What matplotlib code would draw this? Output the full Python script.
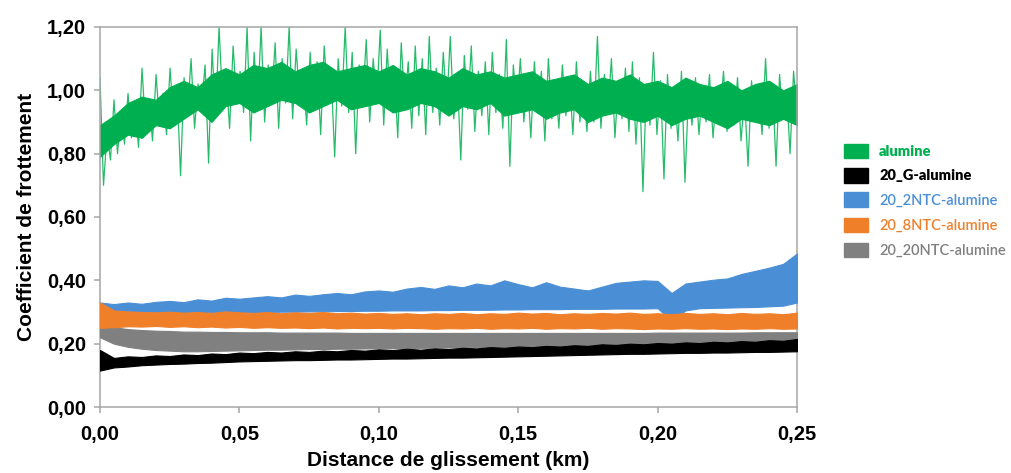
import numpy as np
import matplotlib
matplotlib.use("Agg")
import matplotlib.pyplot as plt
from matplotlib.patches import Patch
from matplotlib.ticker import FuncFormatter

# ---------------- data ----------------
series_names = ["alumine", "20_G-alumine", "20_2NTC-alumine", "20_8NTC-alumine", "20_20NTC-alumine"]
series_colors = ["#00b050", "#000000", "#4a8fd6", "#f07f2a", "#808080"]

# alumine: noisy friction trace (hand-read values, 0 -> 0.25 km)
alumine = [
    1.04, 0.70, 0.86, 0.78, 0.97, 0.80, 0.93, 0.83, 0.99, 0.85,
    0.95, 0.82, 1.07, 0.88, 0.97, 0.84, 1.05, 0.90, 0.99, 0.86,
    1.07, 0.91, 1.01, 0.73, 1.04, 0.93, 1.10, 0.88, 1.02, 0.95,
    1.08, 0.77, 1.13, 0.92, 1.20, 0.96, 1.05, 0.88, 1.14, 0.97,
    1.06, 0.93, 1.20, 0.84, 1.12, 0.95, 1.20, 0.90, 1.08, 0.97,
    1.15, 0.88, 1.10, 0.96, 1.20, 0.91, 1.13, 0.97, 1.06, 0.89,
    1.12, 0.94, 1.09, 0.86, 1.14, 0.98, 1.05, 0.79, 1.10, 0.95,
    1.20, 0.93, 1.12, 0.80, 1.08, 0.96, 1.16, 0.90, 1.10, 0.97,
    1.19, 0.89, 1.13, 0.94, 1.07, 0.85, 1.15, 0.96, 1.09, 0.88,
    1.14, 0.92, 1.10, 0.86, 1.17, 0.93, 1.07, 0.89, 1.12, 0.95,
    1.17, 0.91, 1.05, 0.78, 1.11, 0.94, 1.14, 0.87, 1.06, 0.92,
    1.09, 0.86, 1.12, 0.93, 1.05, 0.88, 1.16, 0.76, 1.08, 0.94,
    1.10, 0.90, 1.04, 0.85, 1.09, 0.93, 1.06, 0.84, 1.10, 0.91,
    1.03, 0.88, 1.08, 0.92, 1.04, 0.86, 1.09, 0.90, 1.02, 0.87,
    1.06, 0.90, 1.17, 0.88, 1.05, 0.93, 1.10, 0.85, 1.03, 0.91,
    1.07, 0.87, 1.09, 0.83, 1.04, 0.68, 1.02, 0.89, 1.12, 0.86,
    1.03, 0.72, 1.05, 0.88, 1.00, 0.84, 1.06, 0.71, 0.99, 0.89,
    1.04, 0.86, 1.01, 0.90, 1.05, 0.85, 0.99, 0.92, 1.06, 0.87,
    1.02, 0.89, 1.04, 0.84, 0.98, 0.76, 1.03, 0.90, 1.00, 0.86,
    1.10, 0.88, 1.02, 0.76, 1.05, 0.91, 1.00, 0.80, 1.06, 0.92,
]

# dense core of the alumine trace, lower / upper every 0.005 km (51 points)
a_low = [0.79, 0.83, 0.86, 0.85, 0.89, 0.88, 0.91, 0.94, 0.90, 0.95,
         0.96, 0.93, 0.95, 0.97, 0.96, 0.93, 0.95, 0.97, 0.94, 0.95,
         0.96, 0.93, 0.94, 0.96, 0.95, 0.92, 0.95, 0.94, 0.96, 0.92,
         0.93, 0.94, 0.91, 0.93, 0.94, 0.90, 0.92, 0.93, 0.91, 0.90,
         0.92, 0.89, 0.91, 0.92, 0.90, 0.88, 0.91, 0.90, 0.89, 0.91, 0.89]
a_high = [0.89, 0.92, 0.96, 0.98, 0.97, 1.01, 1.03, 1.01, 1.05, 1.07,
          1.05, 1.08, 1.07, 1.09, 1.06, 1.08, 1.09, 1.06, 1.07, 1.08,
          1.06, 1.08, 1.05, 1.07, 1.06, 1.04, 1.07, 1.05, 1.06, 1.04,
          1.05, 1.06, 1.03, 1.04, 1.05, 1.02, 1.04, 1.03, 1.05, 1.02,
          1.03, 1.01, 1.04, 1.02, 1.01, 1.03, 1.00, 1.02, 1.03, 1.00, 1.02]

# dense bands: lower / upper envelopes every 0.005 km (51 points)
g_low = [0.115, 0.125, 0.128, 0.132, 0.134, 0.136, 0.137, 0.139, 0.140, 0.142,
         0.144, 0.145, 0.146, 0.147, 0.148, 0.148, 0.149, 0.150, 0.150, 0.151,
         0.152, 0.153, 0.153, 0.154, 0.155, 0.156, 0.156, 0.157, 0.158, 0.159,
         0.160, 0.161, 0.162, 0.163, 0.164, 0.165, 0.166, 0.167, 0.168, 0.168,
         0.169, 0.170, 0.171, 0.171, 0.172, 0.172, 0.173, 0.174, 0.174, 0.175, 0.176]
g_high = [0.180, 0.155, 0.160, 0.158, 0.163, 0.161, 0.166, 0.164, 0.169, 0.167,
          0.172, 0.170, 0.174, 0.172, 0.176, 0.174, 0.178, 0.176, 0.180, 0.178,
          0.182, 0.180, 0.184, 0.181, 0.185, 0.183, 0.187, 0.185, 0.189, 0.187,
          0.191, 0.189, 0.193, 0.191, 0.195, 0.193, 0.198, 0.196, 0.200, 0.198,
          0.202, 0.200, 0.204, 0.202, 0.206, 0.204, 0.208, 0.206, 0.211, 0.209, 0.215]

b_low = [0.290, 0.293, 0.295, 0.296, 0.297, 0.297, 0.298, 0.298, 0.299, 0.299,
         0.300, 0.300, 0.300, 0.301, 0.301, 0.302, 0.302, 0.303, 0.303, 0.304,
         0.304, 0.305, 0.305, 0.305, 0.306, 0.306, 0.307, 0.307, 0.307, 0.308,
         0.308, 0.309, 0.309, 0.309, 0.310, 0.310, 0.310, 0.311, 0.311, 0.311,
         0.312, 0.272, 0.305, 0.312, 0.313, 0.314, 0.315, 0.316, 0.318, 0.320, 0.330]
b_high = [0.330, 0.325, 0.330, 0.326, 0.332, 0.335, 0.331, 0.340, 0.336, 0.345,
          0.342, 0.346, 0.350, 0.346, 0.355, 0.351, 0.356, 0.360, 0.356, 0.365,
          0.368, 0.364, 0.374, 0.379, 0.373, 0.384, 0.378, 0.390, 0.384, 0.400,
          0.388, 0.378, 0.394, 0.380, 0.374, 0.368, 0.380, 0.392, 0.396, 0.400,
          0.398, 0.360, 0.390, 0.396, 0.402, 0.406, 0.420, 0.430, 0.440, 0.452, 0.485]

o_low = [0.250, 0.252, 0.255, 0.254, 0.256, 0.253, 0.255, 0.252, 0.254, 0.251,
         0.253, 0.250, 0.252, 0.250, 0.251, 0.249, 0.251, 0.248, 0.250, 0.249,
         0.250, 0.248, 0.250, 0.249, 0.247, 0.249, 0.248, 0.250, 0.247, 0.249,
         0.248, 0.250, 0.247, 0.249, 0.248, 0.250, 0.247, 0.249, 0.248, 0.246,
         0.248, 0.247, 0.249, 0.247, 0.248, 0.246, 0.248, 0.247, 0.249, 0.247, 0.248]
o_high = [0.330, 0.305, 0.302, 0.300, 0.299, 0.301, 0.298, 0.300, 0.297, 0.302,
          0.299, 0.297, 0.300, 0.296, 0.299, 0.297, 0.300, 0.296, 0.298, 0.295,
          0.297, 0.294, 0.296, 0.293, 0.296, 0.294, 0.297, 0.293, 0.296, 0.294,
          0.298, 0.295, 0.297, 0.293, 0.296, 0.294, 0.297, 0.295, 0.298, 0.294,
          0.296, 0.293, 0.297, 0.294, 0.296, 0.293, 0.297, 0.294, 0.296, 0.293, 0.298]

gr_low = [0.220, 0.200, 0.190, 0.184, 0.180, 0.178, 0.176, 0.176, 0.177, 0.178,
          0.179, 0.180, 0.181, 0.181, 0.182, 0.183, 0.183, 0.184, 0.184, 0.185,
          0.185, 0.186, 0.186, 0.187, 0.187, 0.188, 0.188, 0.189, 0.189, 0.190,
          0.190, 0.191, 0.191, 0.192, 0.192, 0.193, 0.193, 0.194, 0.194, 0.195,
          0.195, 0.196, 0.196, 0.197, 0.197, 0.198, 0.198, 0.199, 0.199, 0.200, 0.200]
gr_high = [0.270, 0.252, 0.246, 0.243, 0.241, 0.240, 0.238, 0.238, 0.237, 0.237,
           0.236, 0.236, 0.236, 0.235, 0.235, 0.235, 0.235, 0.235, 0.234, 0.234,
           0.234, 0.234, 0.234, 0.234, 0.234, 0.234, 0.234, 0.234, 0.234, 0.234,
           0.234, 0.234, 0.234, 0.234, 0.234, 0.234, 0.234, 0.234, 0.234, 0.234,
           0.235, 0.235, 0.235, 0.235, 0.235, 0.235, 0.235, 0.236, 0.236, 0.236, 0.236]

x_ticks = [0.00, 0.05, 0.10, 0.15, 0.20, 0.25]
y_ticks = [0.00, 0.20, 0.40, 0.60, 0.80, 1.00, 1.20]

# ---------------- plotting ----------------
plt.rcParams['font.family'] = ['Liberation Sans', 'DejaVu Sans']
fig = plt.figure(figsize=(10.11, 4.73), dpi=100)
ax = fig.add_axes([0.0989, 0.1395, 0.6895, 0.8035])

xa = np.linspace(0, 0.25, len(alumine))
xb = np.linspace(0, 0.25, len(g_low))

green = series_colors[0]
ax.plot(xa, alumine, color=green, lw=0.9, alpha=0.85, zorder=2)
ax.fill_between(xb, a_low, a_high, color=green, lw=0.8, edgecolor=green, zorder=2)
ax.fill_between(xb, b_low, b_high, color=series_colors[2], lw=0.8, edgecolor=series_colors[2], zorder=3)
ax.fill_between(xb, gr_low, gr_high, color=series_colors[4], lw=0.8, edgecolor=series_colors[4], zorder=3)
ax.fill_between(xb, o_low, o_high, color=series_colors[3], lw=0.8, edgecolor=series_colors[3], zorder=4)
ax.fill_between(xb, g_low, g_high, color=series_colors[1], lw=0.8, edgecolor=series_colors[1], zorder=5)

ax.set_xlim(0, 0.25)
ax.set_ylim(0, 1.2)
ax.set_xticks(x_ticks)
ax.set_yticks(y_ticks)
fmt = FuncFormatter(lambda v, p: f"{v:.2f}".replace(".", ","))
ax.xaxis.set_major_formatter(fmt)
ax.yaxis.set_major_formatter(fmt)
for s in ax.spines.values():
    s.set_color("#a6a6a6")
    s.set_linewidth(1.1)
ax.tick_params(axis="both", direction="out", length=4, width=1.1, color="#a6a6a6",
               labelsize=14.5)
ax.tick_params(axis="x", pad=9)
ax.tick_params(axis="y", pad=6)
for lab in ax.get_xticklabels() + ax.get_yticklabels():
    lab.set_fontweight("bold")
ax.set_xlabel("Distance de glissement (km)", fontsize=15, fontweight="bold", labelpad=5)
ax.set_ylabel("Coefficient de frottement", fontsize=15, fontweight="bold", labelpad=8)

handles = [Patch(facecolor=c, edgecolor=c) for c in series_colors]
leg = fig.legend(handles, series_names, loc="upper left", bbox_to_anchor=(0.822, 0.724),
                 frameon=False, handlelength=1.6, handleheight=1.15,
                 labelspacing=0.68, handletextpad=0.8,
                 prop={"family": ["Lato", "DejaVu Sans"], "size": 10.5, "weight": "bold"})
for t, c, w in zip(leg.get_texts(), series_colors, ["heavy", "heavy", "semibold", "semibold", "semibold"]):
    t.set_color(c)
    t.set_fontweight(w)

fig.savefig("out.png", dpi=100)
